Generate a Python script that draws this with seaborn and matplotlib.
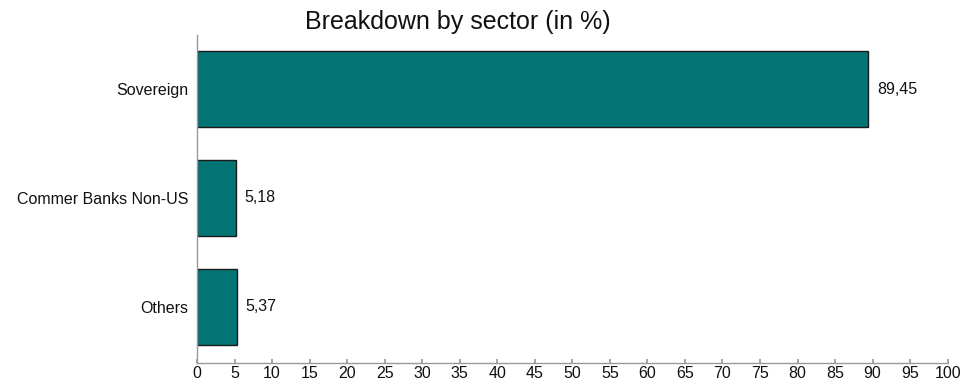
import matplotlib
matplotlib.use("Agg")
import matplotlib.pyplot as plt
import seaborn as sns
import pandas as pd

# ----- data -----
sectors = ["Sovereign", "Commer Banks Non-US", "Others"]
shares = [89.45, 5.18, 5.37]
x_ticks = list(range(0, 101, 5))
# ----------------

sns.set_theme(style="white")
plt.rcParams["font.family"] = ["Liberation Sans", "DejaVu Sans"]

df = pd.DataFrame({"sector": sectors, "share": shares})

fig = plt.figure(figsize=(9.68, 3.81), dpi=100)
ax = fig.add_axes([0.2035, 0.047, 0.7755, 0.861])

sns.barplot(data=df, x="share", y="sector", orient="h", color="#037474",
            saturation=1, width=0.7, edgecolor="#1a1a1a", linewidth=1, ax=ax)

labels = [f"{v:.2f}".replace(".", ",") for v in shares]
ax.bar_label(ax.containers[0], labels=labels, padding=6, fontsize=11.5, color="#111111")

ax.set_xlim(0, 100)
ax.set_ylim(2.52, -0.5)
ax.set_xticks(x_ticks)
ax.set_xlabel("")
ax.set_ylabel("")
ax.tick_params(axis="x", direction="in", length=3, color="#999999", labelsize=11.5,
               labelcolor="#111111", pad=2, bottom=True)
ax.tick_params(axis="y", length=0, labelsize=11.5, labelcolor="#111111", pad=6)

for side in ["top", "right"]:
    ax.spines[side].set_visible(False)
for side in ["left", "bottom"]:
    ax.spines[side].set_color("#999999")
    ax.spines[side].set_linewidth(1)

fig.text(0.473, 0.942, "Breakdown by sector (in %)", ha="center", va="center",
         fontsize=18, color="#111111")

plt.savefig("out.png", dpi=100)
